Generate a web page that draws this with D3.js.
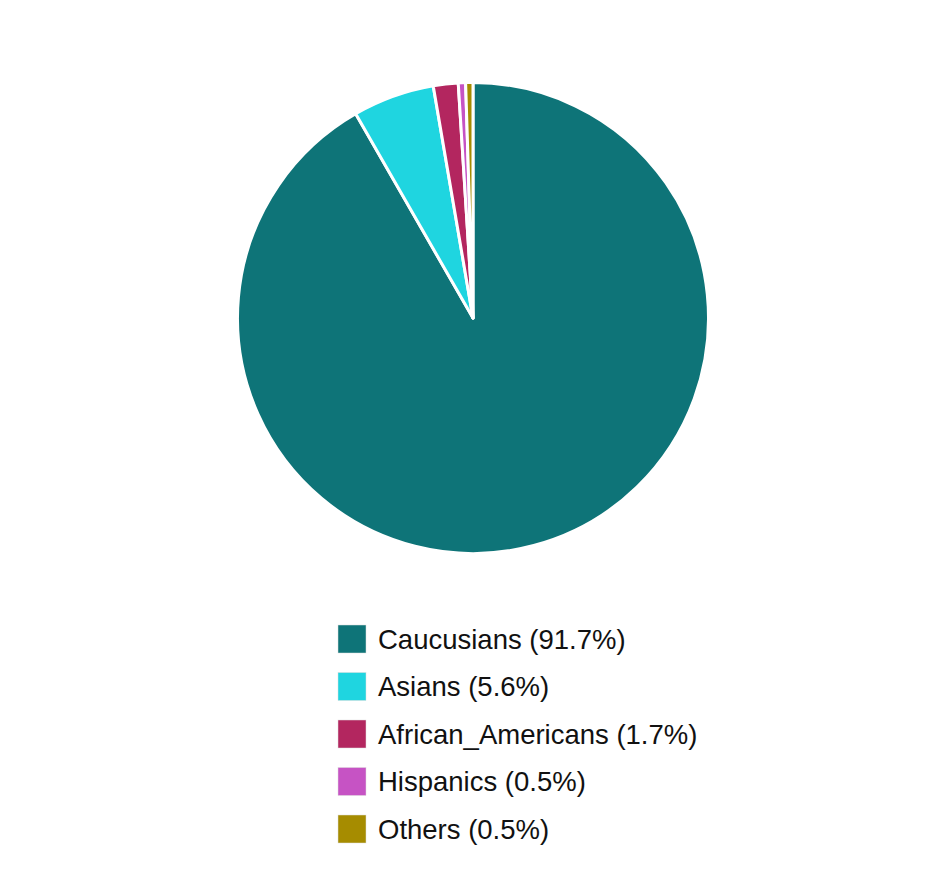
<!DOCTYPE html>
<html>
<head>
<meta charset="utf-8">
<script src="https://cdn.jsdelivr.net/npm/d3@7"></script>
<style>
  body { margin: 0; background: #fff; }
  svg { display: block; font-family: "Liberation Sans", Arial, sans-serif; }
</style>
</head>
<body>
<div id="chart"></div>
<script>
// data
const groups = ["Caucusians", "Asians", "African_Americans", "Hispanics", "Others"];
const shares = [91.7, 5.6, 1.7, 0.5, 0.5];
const colors = ["#0e7478", "#1fd5e0", "#b3265f", "#c653c4", "#a68c00"];

const width = 941, height = 891;
const cx = 473, cy = 318, radius = 235.5;

const svg = d3.select("#chart")
  .append("svg")
  .attr("width", width)
  .attr("height", height);

const color = d3.scaleOrdinal().domain(groups).range(colors);

const data = groups.map((g, i) => ({ name: g, value: shares[i] }));

const pie = d3.pie().sort(null).value(d => d.value);
const arc = d3.arc().innerRadius(0).outerRadius(radius);

// Pie slices
svg.append("g")
  .attr("transform", `translate(${cx},${cy})`)
  .selectAll("path")
  .data(pie(data))
  .enter()
  .append("path")
  .attr("d", arc)
  .attr("fill", d => color(d.data.name))
  .attr("stroke", "#fff")
  .attr("stroke-width", 3)
  .attr("stroke-linejoin", "round");

// Legend
const legend = svg.append("g").attr("transform", "translate(338,625)");
const row = legend.selectAll("g")
  .data(data)
  .enter()
  .append("g")
  .attr("transform", (d, i) => `translate(0,${i * 47.5})`);

row.append("rect")
  .attr("width", 28)
  .attr("height", 28)
  .attr("fill", d => color(d.name))
  .attr("stroke", "#ddd")
  .attr("stroke-width", 0.5);

row.append("text")
  .attr("x", 40)
  .attr("y", 14)
  .attr("dy", "0.35em")
  .attr("font-size", 27.5)
  .attr("fill", "#111")
  .text(d => `${d.name} (${d.value}%)`);
</script>
</body>
</html>
